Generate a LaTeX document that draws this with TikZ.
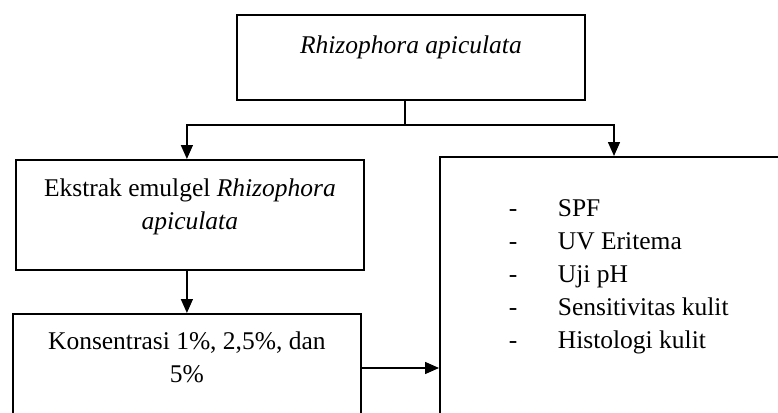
\documentclass[tikz,border=0pt]{standalone}
\usepackage{fontspec}
\setmainfont{Liberation Serif}
\usetikzlibrary{arrows.meta,positioning}

% width, height, first baseline, text
\newcommand{\boxtxt}[4]{\parbox[c][#2][t]{#1}{\centering\rule{0pt}{#3}#4}}
\newcommand{\dashitem}[1]{\makebox[49pt][l]{-}#1}

\begin{document}
\begin{tikzpicture}[x=1pt,y=-1pt,
    box/.style={draw, line width=1.8pt, inner sep=0pt, anchor=north west,
      font=\fontsize{25.5}{32.5}\selectfont},
    con/.style={line width=1.5pt},
    arr/.style={con, -{Triangle[length=14pt,width=12pt]}}]
  \useasboundingbox (0,0) rectangle (778,412);
  \clip (0,0) rectangle (778,412);

  \node[box] (rh) at (236,14) {\boxtxt{348pt}{85pt}{39pt}{\itshape Rhizophora apiculata}};
  \node[box] (ek) at (15,159) {\boxtxt{348pt}{110pt}{37pt}{Ekstrak emulgel \textit{Rhizophora}\\ \textit{apiculata}}};
  \node[box] (ko) at (12,313) {\boxtxt{348pt}{200pt}{36pt}{Konsentrasi 1\%, 2,5\%, dan\\ 5\%}};
  \node[box] (uji) at (439,156) {\parbox[c][300pt][t]{400pt}{\raggedright\leftskip=69pt
      \baselineskip=33pt\rule{0pt}{60pt}\dashitem{SPF}\\
      \dashitem{UV Eritema}\\
      \dashitem{Uji pH}\\
      \dashitem{Sensitivitas kulit}\\
      \dashitem{Histologi kulit}}};

  \coordinate (split) at (405,125);
  \coordinate (k) at ([yshift=-55pt]ko.north east);

  \draw[con] (split |- rh.south) -- (split);
  \draw[arr] (split) -| (ko.north |- ek.north);
  \draw[arr] (split) -| ([xshift=175pt]uji.north west);
  \draw[arr] (ko.north |- ek.south) -- (ko.north);
  \draw[arr] (k) -- (k -| uji.west);
\end{tikzpicture}
\end{document}
